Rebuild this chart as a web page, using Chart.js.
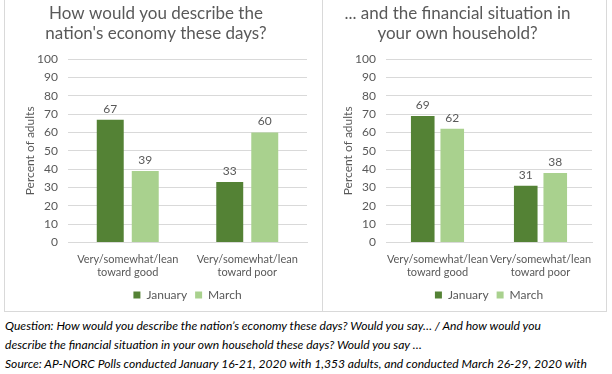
<!DOCTYPE html>
<html>
<head>
<meta charset="utf-8">
<script src="https://cdn.jsdelivr.net/npm/chart.js@4"></script>
<style>
  html, body { margin: 0; padding: 0; background: #fff; }
  body { width: 612px; height: 374px; overflow: hidden; position: relative; font-family: Lato, "Open Sans", sans-serif; }
  .panel { position: absolute; top: -1px; height: 313px; border: 1px solid #d9d9d9; box-sizing: border-box; }
  #p1 { left: 4px; width: 319px; }
  #p2 { left: 322px; width: 285px; }
  .panel canvas { position: absolute; left: 0; top: 1px; }
  #note { position: absolute; left: 5px; top: 316px; font-style: italic; font-size: 12.1px; line-height: 19px; color: #000; white-space: nowrap; }
</style>
</head>
<body>
<div class="panel" id="p1"><canvas id="economy"></canvas></div>
<div class="panel" id="p2"><canvas id="household"></canvas></div>
<div id="note">
  <div>Question: How would you describe the nation’s economy these days? Would you say… / And how would you</div>
  <div>describe the financial situation in your own household these days? Would you say …</div>
  <div>Source: AP-NORC Polls conducted January 16-21, 2020 with 1,353 adults, and conducted March 26-29, 2020 with</div>
  <div>1,057 adults nationwide.</div>
</div>
<script>
// categories & series
const categories = [["Very/somewhat/lean", "toward good"], ["Very/somewhat/lean", "toward poor"]];
const seriesNames = ["January", "March"];
const economyJan = [67, 33];
const economyMar = [39, 60];
const householdJan = [69, 31];
const householdMar = [62, 38];
const yMax = 100;
const yStep = 10;

const darkGreen = "#548235";
const lightGreen = "#a9d18e";
const grey = "#595959";

// values above the bars
const barValues = {
  id: "barValues",
  afterDatasetsDraw(chart) {
    const ctx = chart.ctx;
    ctx.save();
    ctx.font = "12px Lato";
    ctx.fillStyle = grey;
    ctx.textAlign = "center";
    ctx.textBaseline = "bottom";
    chart.data.datasets.forEach((ds, i) => {
      chart.getDatasetMeta(i).data.forEach((bar, j) => {
        ctx.fillText(ds.data[j], bar.x, bar.y - 5);
      });
    });
    ctx.restore();
  }
};

function makeChart(id, w, title, jan, mar, catPct, barPct, padRight) {
  const cv = document.getElementById(id);
  cv.width = w;
  cv.height = 311;
  return new Chart(cv, {
    type: "bar",
    data: {
      labels: categories,
      datasets: [
        { label: seriesNames[0], data: jan, backgroundColor: darkGreen },
        { label: seriesNames[1], data: mar, backgroundColor: lightGreen }
      ]
    },
    options: {
      responsive: false,
      animation: false,
      layout: { padding: { left: 0, right: padRight, top: 0, bottom: 1 } },
      datasets: { bar: { categoryPercentage: catPct, barPercentage: barPct } },
      plugins: {
        title: {
          display: true,
          text: title,
          color: grey,
          font: { family: "Lato", size: 17, weight: "normal", lineHeight: 1.18 },
          padding: { top: 2, bottom: 16 }
        },
        legend: {
          position: "bottom",
          fullSize: false,
          labels: { color: grey, boxWidth: 7, boxHeight: 7, padding: 8, font: { family: "Lato", size: 12 } }
        },
        tooltip: { enabled: false }
      },
      scales: {
        x: {
          grid: { display: false },
          border: { color: "#d9d9d9" },
          ticks: { color: grey, padding: 2, maxRotation: 0, autoSkip: false, font: { family: "Lato", size: 11, lineHeight: 1.2 } }
        },
        y: {
          min: 0, max: yMax,
          afterFit(s) { s.width = 63; },
          grid: { color: "#d9d9d9", drawTicks: false },
          border: { display: false },
          ticks: { stepSize: yStep, color: grey, padding: 10, font: { family: "Lato", size: 12 } },
          title: { display: true, text: "Percent of adults", color: grey, padding: { top: 18, bottom: 0 }, font: { family: "Lato", size: 12 } }
        }
      }
    },
    plugins: [barValues]
  });
}

makeChart("economy", 317, ["How would you describe the", "nation's economy these days?"], economyJan, economyMar, 0.586, 0.77, 15);
makeChart("household", 283, ["... and the financial situation in", "your own household?"], householdJan, householdMar, 0.573, 0.8, 14);
</script>
</body>
</html>
